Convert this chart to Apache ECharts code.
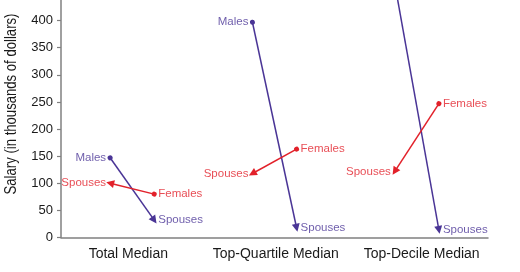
<!DOCTYPE html>
<html>
<head>
<meta charset="utf-8">
<script src="https://cdn.jsdelivr.net/npm/echarts@6/dist/echarts.min.js"></script>
<style>
html,body{margin:0;padding:0;background:#fff;}
#c{width:520px;height:272px;}
</style>
</head>
<body>
<div id="c"></div>
<script>
var categories = ['Total Median', 'Top-Quartile Median', 'Top-Decile Median'];
var malesValues = [147, 397, 468];
var maleSpousesValues = [32, 18, 14];
var femalesValues = [80, 163, 247];
var femaleSpousesValues = [100, 118, 122];
var yTickValues = [0, 50, 100, 150, 200, 250, 300, 350, 400];

var FONT = "'Liberation Sans',Arial,sans-serif";
var PURPLE = '#4a3596';
var RED = '#e2212a';
var OFF = 0.155;
var labelPos = [0.473, 1.509, 2.534];

function leftX(i) { return i + 0.5 - OFF; }
function rightX(i) { return i + 0.5 + OFF; }

var series = [];
function arrowSeries(color, fromX, fromVals, toX, toVals) {
  var data = categories.map(function (c, i) {
    return { coords: [[fromX(i), fromVals[i]], [toX(i), toVals[i]]] };
  });
  return {
    type: 'lines', coordinateSystem: 'cartesian2d', clip: true,
    symbol: ['circle', 'triangle'], symbolSize: [5, 8],
    lineStyle: { color: color, width: 1.5, opacity: 1, curveness: 0 },
    data: data, z: 3
  };
}
function labelSeries(color, xf, vals, text, pos) {
  return {
    type: 'scatter', symbolSize: 0, clip: true,
    label: { show: true, position: pos, distance: 4, formatter: text,
      color: color, fontFamily: FONT, fontSize: 11.5 },
    data: categories.map(function (c, i) { return [xf(i), vals[i]]; }),
    z: 4
  };
}
series.push(arrowSeries(PURPLE, leftX, malesValues, rightX, maleSpousesValues));
series.push(arrowSeries(RED, rightX, femalesValues, leftX, femaleSpousesValues));
series.push(labelSeries(PURPLE, leftX, malesValues, 'Males', 'left'));
series.push(labelSeries(PURPLE, rightX, maleSpousesValues, 'Spouses', 'right'));
series.push(labelSeries(RED, rightX, femalesValues, 'Females', 'right'));
series.push(labelSeries(RED, leftX, femaleSpousesValues, 'Spouses', 'left'));

var chart = echarts.init(document.getElementById('c'), null, { renderer: 'canvas' });
chart.setOption({
  animation: false,
  backgroundColor: '#fff',
  grid: { left: 61, right: 32, top: 0, bottom: 34.5 },
  xAxis: {
    type: 'value', min: 0, max: 3,
    splitLine: { show: false },
    axisLine: { show: true, lineStyle: { color: '#808080', width: 1.5 } },
    axisTick: { show: false },
    axisLabel: {
      customValues: labelPos,
      formatter: function (v) {
        var idx = 0, best = 1e9;
        labelPos.forEach(function (p, i) { if (Math.abs(p - v) < best) { best = Math.abs(p - v); idx = i; } });
        return categories[idx];
      },
      color: '#1a1a1a', fontFamily: FONT, fontSize: 14, margin: 10
    }
  },
  yAxis: {
    type: 'value', min: 0, max: 438,
    splitLine: { show: false },
    axisLine: { show: true, lineStyle: { color: '#808080', width: 1.5 } },
    axisTick: { show: true, customValues: yTickValues, length: 4, lineStyle: { color: '#808080', width: 1.2 } },
    axisLabel: { customValues: yTickValues, color: '#1a1a1a', fontFamily: FONT, fontSize: 13, margin: 8 }
  },
  graphic: [{
    type: 'text', x: 11.5, y: 104, rotation: Math.PI / 2, scaleX: 0.82,
    style: { text: 'Salary (in thousands of dollars)', fill: '#1a1a1a',
      font: '16px ' + FONT, align: 'center', verticalAlign: 'middle' }
  }],
  series: series
});
</script>
</body>
</html>
